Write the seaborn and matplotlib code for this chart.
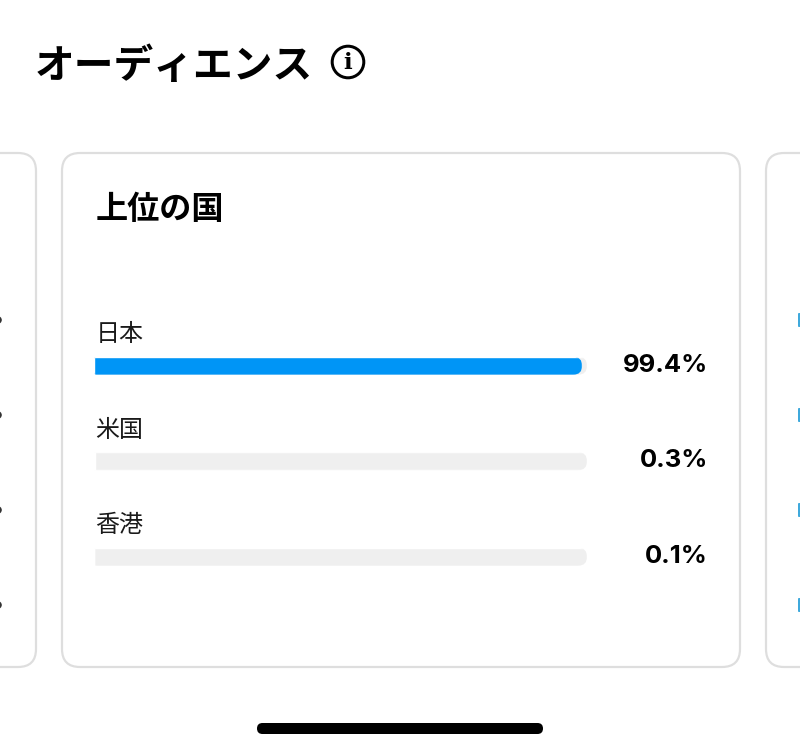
import matplotlib
matplotlib.use("Agg")
import matplotlib.pyplot as plt
import pandas as pd
import seaborn as sns
from matplotlib.patches import Circle, FancyBboxPatch, PathPatch
from matplotlib.path import Path
from matplotlib.transforms import IdentityTransform, blended_transform_factory

# Audience card content
page_title = "オーディエンス"
card_title = "上位の国"
countries = ["日本", "米国", "香港"]
shares = [99.4, 0.3, 0.1]
share_labels = ["99.4%", "0.3%", "0.1%"]
track_extent = [100.4, 100.4, 100.4]
bar_colors = ["#0095F6", "#EFEFEF", "#EFEFEF"]

W, H = 800, 750
JP = ["Noto Sans CJK JP", "DejaVu Sans"]

sns.set_theme(style="white")
plt.rcParams["font.family"] = JP

fig = plt.figure(figsize=(W / 100, H / 100), dpi=100, facecolor="white")

# Page layer addressed in pixels, y pointing down
page = fig.add_axes([0, 0, 1, 1])
page.set_xlim(0, W)
page.set_ylim(H, 0)
page.axis("off")


def px(v):
    return v * 0.72


def card(x0, y0, x1, y1, radius=18):
    page.add_patch(FancyBboxPatch(
        (x0 + radius, y0 + radius), x1 - x0 - 2 * radius, y1 - y0 - 2 * radius,
        boxstyle=f"round,pad={radius},rounding_size={radius}",
        fc="white", ec="#DEDEDE", lw=px(2.2)))


# Neighbouring cards run off both edges of the page
card(-300, 153, 36, 667)
card(62, 153, 740, 667)
card(766, 153, 1100, 667)

# Slivers of the neighbouring cards' rows
for row_y in (320, 415, 510, 605):
    page.add_patch(Circle((-2, row_y), 3.8, fc="#333333", ec="none"))
    page.add_patch(FancyBboxPatch((798, row_y - 7), 5, 14,
                                  boxstyle="round,pad=0,rounding_size=1",
                                  fc="#3FA9DC", ec="none"))

page.text(35, 62.5, page_title, fontsize=px(39.7), fontweight="bold",
          color="black", ha="left", va="center_baseline")
page.text(95.5, 206.3, card_title, fontsize=px(32.2), fontweight="bold",
          color="black", ha="left", va="center_baseline")

# Info icon next to the heading
page.add_patch(Circle((348, 62), 15.8, fc="white", ec="black", lw=px(3)))
page.text(348, 63, "i", fontsize=px(23), fontweight="bold", color="black",
          family="DejaVu Serif", ha="center", va="center")

# Home indicator
page.add_patch(FancyBboxPatch((257, 723), 286, 11,
                              boxstyle="round,pad=0,rounding_size=5.5",
                              fc="black", ec="none"))

# Bar axes: one category step is 95.5 px, centred on the bar rows
ax_left, ax_right = 94, 587
ax_top, ax_bottom = 318.0, 604.5
ax = fig.add_axes([ax_left / W, 1 - ax_bottom / H,
                   (ax_right - ax_left) / W, (ax_bottom - ax_top) / H])
ax.patch.set_alpha(0)

df = pd.DataFrame({"country": countries, "share": shares, "track": track_extent})
bar_width = 18 / 95.5
sns.barplot(data=df, x="track", y="country", color="#EFEFEF", saturation=1,
            width=bar_width, ax=ax, zorder=1)
sns.barplot(data=df, x="share", y="country", hue="country", palette=bar_colors,
            saturation=1, width=bar_width, legend=False, ax=ax, zorder=2)
ax.set_xlim(0, 100.4)
ax.set_ylim(2.5, -0.5)
ax.set_xlabel("")
ax.set_ylabel("")
ax.set_xticks([])
ax.set_yticks([])
sns.despine(ax=ax, left=True, bottom=True)
fig.canvas.draw()


def rounded_clip(patch, left_r=2.5, right_r=9):
    """Clip a bar so its right end is a pill and its left end only slightly eased."""
    (x0, y0), (x1, y1) = ax.transData.transform(
        [(patch.get_x(), patch.get_y()),
         (patch.get_x() + patch.get_width(), patch.get_y() + patch.get_height())])
    y0, y1 = min(y0, y1), max(y0, y1)
    right_r = min(right_r, (x1 - x0) / 2)
    left_r = min(left_r, (x1 - x0) / 2)
    verts = [(x0 + left_r, y0), (x1 - right_r, y0), (x1, y0), (x1, y0 + right_r),
             (x1, y1 - right_r), (x1, y1), (x1 - right_r, y1),
             (x0 + left_r, y1), (x0, y1), (x0, y1 - left_r),
             (x0, y0 + left_r), (x0, y0), (x0 + left_r, y0), (x0 + left_r, y0)]
    codes = [Path.MOVETO, Path.LINETO, Path.CURVE3, Path.CURVE3,
             Path.LINETO, Path.CURVE3, Path.CURVE3,
             Path.LINETO, Path.CURVE3, Path.CURVE3,
             Path.LINETO, Path.CURVE3, Path.CURVE3, Path.CLOSEPOLY]
    patch.set_clip_path(PathPatch(Path(verts, codes), transform=IdentityTransform()))


for bar in ax.patches:
    if bar.get_width() > 1:
        rounded_clip(bar)

# Country names above each bar, share values at the far right of the row
label_tf = blended_transform_factory(page.transData, ax.transData)
for i, (name, label) in enumerate(zip(countries, share_labels)):
    ax.text(95.5, i - 33.7 / 95.5, name, transform=label_tf, fontsize=px(24),
            color="#1A1A1A", ha="left", va="center_baseline", clip_on=False)
    ax.text(708, i - 0.3 / 95.5, label, transform=label_tf, fontsize=px(25.6),
            fontweight="bold", family="Inter", color="black",
            ha="right", va="center", clip_on=False)

fig.savefig("out.png", dpi=100, facecolor="white")
